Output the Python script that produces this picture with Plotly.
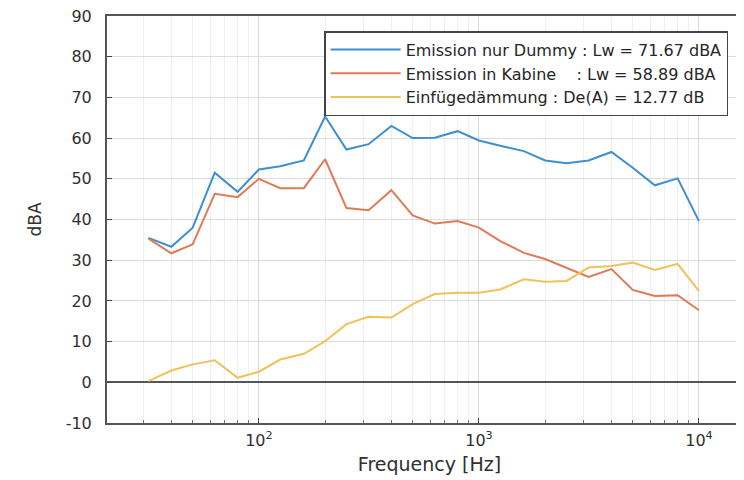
import plotly.graph_objects as go
import numpy as np

freq = [31.5, 40, 50, 63, 80, 100, 125, 160, 200, 250, 315, 400, 500, 630, 800,
        1000, 1250, 1600, 2000, 2500, 3150, 4000, 5000, 6300, 8000, 10000]
dummy = [35.5, 33.3, 38.0, 51.5, 46.8, 52.3, 53.1, 54.5, 65.3, 57.2, 58.5, 63.0, 60.0, 60.1, 61.7,
         59.4, 58.1, 56.8, 54.5, 53.8, 54.5, 56.6, 52.7, 48.4, 50.1, 39.6]
kabine = [35.3, 31.7, 33.9, 46.3, 45.5, 50.0, 47.7, 47.7, 54.8, 42.8, 42.3, 47.2, 41.0, 39.0, 39.6,
          38.0, 34.7, 31.8, 30.3, 28.2, 25.9, 27.8, 22.7, 21.2, 21.4, 17.7]
daemmung = [0.3, 2.9, 4.4, 5.4, 1.1, 2.6, 5.6, 7.0, 10.1, 14.3, 16.1, 15.9, 19.2, 21.7, 22.0,
            22.0, 22.8, 25.3, 24.7, 24.9, 28.2, 28.6, 29.4, 27.6, 29.1, 22.4]

names = [
    "Emission nur Dummy : Lw = 71.67 dBA",
    "Emission in Kabine\u00a0\u00a0\u00a0\u00a0: Lw = 58.89 dBA",
    "Einfügedämmung : De(A) = 12.77 dB",
]
colors = ["#3f8fd0", "#e07a56", "#f0c25a"]

y_ticks = [-10, 0, 10, 20, 30, 40, 50, 60, 70, 80, 90]
y_tick_text = [str(v) for v in y_ticks]
x_major = [100, 1000, 10000]
x_major_text = ["10<sup>2</sup>", "10<sup>3</sup>", "10<sup>4</sup>"]
x_minor = [m * 10 ** e for e in range(1, 5) for m in range(2, 10)]

fig = go.Figure()
for vals, name, col in zip([dummy, kabine, daemmung], names, colors):
    fig.add_trace(go.Scatter(x=freq, y=vals, mode="lines", name=name,
                             line=dict(color=col, width=2)))

font_family = "DejaVu Sans, Verdana, sans-serif"
fig.update_layout(
    width=744, height=480,
    margin=dict(l=99, r=0, t=8, b=65),
    paper_bgcolor="white", plot_bgcolor="white",
    font=dict(family=font_family, size=16, color="#303030"),
    showlegend=True,
    legend=dict(x=0.963, xanchor="right", y=0.963, yanchor="top",
                bgcolor="white", bordercolor="#444444", borderwidth=1.5,
                font=dict(size=16, color="#262626"),
                tracegroupgap=0, itemwidth=70),
    xaxis=dict(type="log", range=[np.log10(20.4), 4.241], automargin=False,
               tickvals=x_major, ticktext=x_major_text,
               ticks="inside", ticklen=5, tickcolor="#444444",
               ticklabelstandoff=2, ticklabeloverflow="allow",
               showgrid=True, gridcolor="#d9d9d9", gridwidth=1,
               minor=dict(tickvals=x_minor, showgrid=True, gridcolor="#efefef",
                          gridwidth=1, ticks="inside", ticklen=3, tickcolor="#777777"),
               showline=True, linecolor="#555555", linewidth=2, mirror=True,
               zeroline=False,
               title=dict(text="Frequency [Hz]", font=dict(size=19), standoff=8),
               tickfont=dict(size=16)),
    yaxis=dict(range=[-10, 90], tickvals=y_ticks, ticktext=y_tick_text, automargin=False,
               ticks="inside", ticklen=5, tickcolor="#444444",
               ticklabelstandoff=10, ticklabeloverflow="allow",
               showgrid=True, gridcolor="#dcdcdc", gridwidth=1,
               showline=True, linecolor="#555555", linewidth=2, mirror=False,
               zeroline=True, zerolinecolor="#555555", zerolinewidth=2,
               title=dict(text="dBA", font=dict(size=17), standoff=20),
               tickfont=dict(size=16)),
)

fig.write_html("out.html")
